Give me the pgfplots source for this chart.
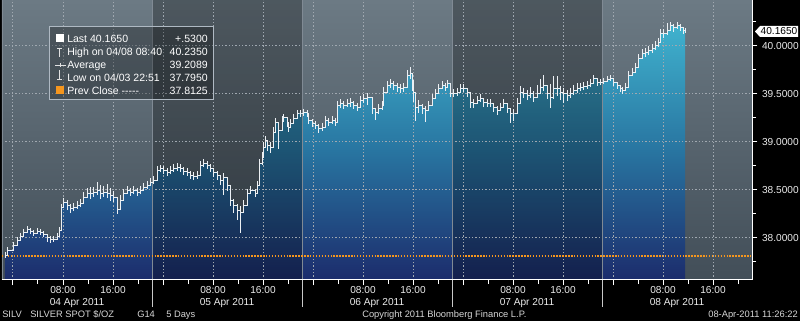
\documentclass[border=0pt]{standalone}
\usepackage{fontspec}
\setmainfont{Liberation Sans}
\usepackage{pgfplots}
\pgfplotsset{compat=1.18}
\usepackage{pgfplotstable}

\definecolor{bgtop}{RGB}{108,122,132}
\definecolor{bgbot}{RGB}{66,78,88}
\definecolor{artop}{RGB}{64,178,206}
\definecolor{armid}{RGB}{40,116,160}
\definecolor{arbot}{RGB}{28,44,108}
\definecolor{gridc}{RGB}{160,168,176}
\definecolor{orng}{RGB}{245,150,30}
\definecolor{txt}{RGB}{235,235,235}
\definecolor{sepc}{RGB}{128,138,148}
\definecolor{barc}{RGB}{236,240,244}
\definecolor{sepb}{RGB}{200,200,200}
\definecolor{infot}{RGB}{215,215,215}
\definecolor{legbd}{RGB}{175,185,195}
\definecolor{iconc}{RGB}{225,225,225}

% h = hours since 00:00 04 Apr 2011, c = price, ep/em = bar range above/below
\pgfplotstableread{
h c ep em
-1.28 37.823 0.03 0.028
-0.96 37.875 0.03 0.04
0.00 37.927 0.03 0.03
0.64 37.979 0.03 0.03
1.12 38.021 0.03 0.03
1.60 38.063 0.03 0.03
2.24 38.094 0.03 0.03
2.72 38.073 0.03 0.03
3.20 38.052 0.03 0.03
3.84 38.073 0.03 0.03
4.32 38.063 0.03 0.03
4.80 38.042 0.03 0.03
5.44 38.010 0.03 0.05
5.92 37.990 0.03 0.04
6.40 37.990 0.03 0.03
7.04 38.021 0.03 0.03
7.36 38.083 0.03 0.03
7.68 38.323 0.03 0.05
8.00 38.375 0.04 0.04
8.64 38.344 0.05 0.05
9.12 38.313 0.04 0.05
9.60 38.323 0.04 0.04
10.24 38.344 0.04 0.04
10.72 38.365 0.04 0.04
11.20 38.427 0.05 0.05
11.84 38.469 0.05 0.04
12.32 38.469 0.06 0.06
12.80 38.479 0.05 0.05
13.44 38.500 0.08 0.05
13.92 38.469 0.08 0.06
14.40 38.479 0.06 0.05
15.04 38.469 0.09 0.05
15.52 38.448 0.07 0.06
16.00 38.427 0.06 0.05
16.64 38.300 0.05 0.05
17.12 38.396 0.05 0.04
17.60 38.469 0.04 0.04
18.24 38.500 0.04 0.04
18.72 38.479 0.04 0.04
19.20 38.500 0.04 0.04
19.84 38.479 0.04 0.04
20.32 38.500 0.04 0.04
20.80 38.531 0.04 0.04
21.44 38.552 0.04 0.04
21.92 38.583 0.04 0.04
22.40 38.604 0.04 0.04
23.04 38.708 0.04 0.05
23.52 38.729 0.03 0.04
24.00 38.708 0.04 0.04
24.64 38.688 0.04 0.04
25.12 38.708 0.04 0.04
25.60 38.729 0.04 0.04
26.24 38.740 0.04 0.04
26.72 38.729 0.04 0.04
27.20 38.698 0.04 0.04
27.84 38.688 0.04 0.04
28.32 38.656 0.04 0.04
28.80 38.646 0.04 0.04
29.44 38.656 0.04 0.04
29.92 38.760 0.04 0.05
30.40 38.781 0.04 0.04
31.04 38.760 0.04 0.04
31.52 38.729 0.04 0.04
32.00 38.688 0.04 0.05
32.64 38.656 0.04 0.05
33.12 38.604 0.04 0.05
33.60 38.635 0.04 0.19
34.24 38.552 0.05 0.06
34.72 38.396 0.06 0.06
35.20 38.344 0.06 0.08
35.84 38.292 0.06 0.10
36.32 38.271 0.06 0.22
36.80 38.344 0.05 0.06
37.44 38.469 0.04 0.06
37.92 38.500 0.04 0.04
38.72 38.469 0.04 0.04
39.04 38.552 0.04 0.06
39.36 38.781 0.04 0.10
39.84 38.844 0.05 0.08
40.00 38.948 0.05 0.08
40.32 39.021 0.04 0.08
40.64 38.969 0.05 0.06
41.12 38.948 0.05 0.06
41.60 39.104 0.05 0.08
41.92 39.208 0.04 0.10
42.40 39.125 0.06 0.20
43.04 39.229 0.04 0.06
43.20 39.260 0.03 0.05
43.84 39.208 0.04 0.05
44.00 39.156 0.04 0.05
44.32 39.198 0.04 0.05
44.80 39.250 0.04 0.04
45.44 39.302 0.03 0.04
45.92 39.302 0.03 0.04
46.40 39.313 0.03 0.04
47.04 39.302 0.03 0.04
47.20 39.229 0.04 0.04
47.84 39.198 0.04 0.04
48.32 39.177 0.04 0.04
48.80 39.146 0.04 0.05
49.44 39.156 0.04 0.04
49.92 39.229 0.04 0.04
50.40 39.208 0.04 0.04
51.04 39.229 0.04 0.04
51.52 39.208 0.04 0.04
51.84 39.385 0.04 0.08
52.32 39.406 0.04 0.05
52.80 39.385 0.04 0.04
53.44 39.406 0.04 0.04
53.92 39.417 0.04 0.05
54.40 39.385 0.04 0.04
55.04 39.365 0.04 0.04
55.52 39.438 0.04 0.05
56.00 39.458 0.04 0.05
56.64 39.469 0.04 0.08
57.44 39.354 0.04 0.06
57.92 39.313 0.04 0.08
58.40 39.354 0.04 0.06
59.04 39.385 0.04 0.05
59.20 39.521 0.05 0.10
59.84 39.594 0.04 0.06
60.32 39.615 0.04 0.05
60.80 39.594 0.04 0.05
61.44 39.573 0.04 0.05
61.92 39.563 0.04 0.05
62.40 39.573 0.04 0.05
63.04 39.698 0.05 0.08
63.52 39.719 0.06 0.06
63.84 39.646 0.04 0.12
64.00 39.521 0.06 0.10
64.32 39.365 0.05 0.15
64.80 39.385 0.05 0.08
65.44 39.354 0.04 0.06
65.92 39.333 0.04 0.12
66.40 39.385 0.04 0.06
67.04 39.458 0.04 0.05
67.52 39.510 0.04 0.05
68.00 39.563 0.04 0.05
68.64 39.594 0.04 0.04
69.12 39.573 0.04 0.04
69.44 39.615 0.03 0.04
69.92 39.510 0.04 0.04
70.40 39.510 0.04 0.04
71.04 39.521 0.04 0.04
71.52 39.563 0.04 0.04
72.00 39.563 0.04 0.04
72.64 39.521 0.04 0.05
73.12 39.417 0.04 0.06
73.60 39.406 0.04 0.05
74.24 39.438 0.04 0.04
74.72 39.458 0.04 0.04
75.20 39.417 0.04 0.05
75.84 39.406 0.04 0.04
76.32 39.406 0.04 0.04
76.80 39.365 0.04 0.05
77.44 39.333 0.04 0.05
77.92 39.365 0.04 0.04
78.40 39.406 0.04 0.04
79.04 39.354 0.04 0.05
79.52 39.302 0.04 0.10
80.00 39.302 0.04 0.08
80.64 39.406 0.05 0.06
81.12 39.521 0.06 0.06
81.60 39.510 0.05 0.05
82.24 39.490 0.05 0.05
82.72 39.510 0.06 0.05
83.20 39.469 0.06 0.05
83.84 39.510 0.08 0.05
84.32 39.573 0.08 0.06
84.80 39.594 0.10 0.06
85.44 39.510 0.06 0.06
85.92 39.469 0.14 0.12
86.40 39.563 0.12 0.12
87.04 39.563 0.12 0.08
87.52 39.521 0.06 0.08
88.00 39.510 0.05 0.10
88.64 39.490 0.05 0.06
89.12 39.510 0.05 0.05
89.60 39.540 0.05 0.05
90.24 39.563 0.05 0.05
90.72 39.573 0.04 0.04
91.20 39.583 0.04 0.04
91.84 39.594 0.04 0.04
92.32 39.615 0.04 0.04
92.80 39.667 0.03 0.05
93.44 39.625 0.03 0.04
93.92 39.625 0.03 0.03
94.40 39.635 0.03 0.03
95.04 39.656 0.03 0.03
95.52 39.667 0.03 0.03
96.00 39.625 0.03 0.04
96.64 39.594 0.03 0.04
97.12 39.563 0.03 0.04
97.44 39.540 0.03 0.04
97.92 39.573 0.04 0.04
98.40 39.698 0.04 0.06
99.04 39.729 0.04 0.04
99.52 39.781 0.04 0.05
100.00 39.875 0.04 0.06
100.64 39.927 0.04 0.05
101.12 39.938 0.04 0.05
101.60 39.958 0.04 0.05
102.24 39.979 0.04 0.05
102.72 40.010 0.04 0.05
103.20 40.042 0.04 0.05
103.52 40.135 0.04 0.08
104.00 40.135 0.04 0.05
104.64 40.167 0.07 0.05
105.12 40.219 0.03 0.05
105.60 40.198 0.03 0.05
106.24 40.219 0.03 0.04
106.72 40.198 0.03 0.04
107.20 40.167 0.03 0.04
107.52 40.165 0.02 0.03
}\price

\begin{document}
\begin{tikzpicture}
\path[use as bounding box] (-1.5pt,-30.75pt) rectangle (598.5pt,210pt);
\fill[black] (-1.5pt,-30.75pt) rectangle (598.5pt,210pt);

\begin{axis}[
  at={(0pt,0pt)}, anchor=south west,
  scale only axis, width=562.5pt, height=210pt,
  xmin=-1.76, xmax=118.24, ymin=37.5625, ymax=40.479,
  axis x line*=bottom, axis y line*=right,
  axis line style={draw=white, line width=0.75pt},
  axis background/.style={top color=bgtop, bottom color=bgbot},
  xtick={0,8,...,112},
  xticklabels={,08:00,16:00,,08:00,16:00,,08:00,16:00,,08:00,16:00,,08:00,16:00},
  minor xtick={4,12,...,116},
  ytick={38,38.5,39,39.5,40},
  yticklabels={38.0000,38.5000,39.0000,39.5000,40.0000},
  minor ytick={37.75,38.25,38.75,39.25,39.75,40.25},
  tick align=outside,
  major tick length=4pt, minor tick length=3pt,
  tick style={white, line width=0.75pt},
  ticklabel style={font=\fontsize{7.6}{9}\selectfont, text=txt},
  xticklabel style={yshift=3pt},
  axis on top,
]
% price area
\addplot[draw=none, top color=artop, bottom color=arbot, middle color=armid, const plot, mark=none]
  table[x=h, y=c]{\price} -- (axis cs:107.52,37.5625) -- (axis cs:-1.28,37.5625) -- cycle;
% darker day columns
\fill[black, opacity=0.28] (axis cs:22.24,37.5625) rectangle (axis cs:46.24,40.479);
\fill[black, opacity=0.28] (axis cs:70.24,37.5625) rectangle (axis cs:94.24,40.479);
% dotted grid
\pgfplotsinvokeforeach{0,8,16,24,32,40,48,56,64,72,80,88,96,104,112}{
  \draw[gridc, line width=0.75pt, dash pattern=on 0.9pt off 1.6pt] (axis cs:#1,37.5625) -- (axis cs:#1,40.479);
}
\pgfplotsinvokeforeach{38,38.5,39,39.5,40}{
  \draw[gridc, line width=0.75pt, dash pattern=on 0.9pt off 1.6pt] (axis cs:-1.76,#1) -- (axis cs:118.24,#1);
}
% day separators
\draw[sepc, line width=0.75pt] (axis cs:22.24,37.5625) -- (axis cs:22.24,40.479);
\draw[sepc, line width=0.75pt] (axis cs:46.24,37.5625) -- (axis cs:46.24,40.479);
\draw[sepc, line width=0.75pt] (axis cs:70.24,37.5625) -- (axis cs:70.24,40.479);
\draw[sepc, line width=0.75pt] (axis cs:94.24,37.5625) -- (axis cs:94.24,40.479);
\draw[sepc, line width=0.75pt] (axis cs:-1.70,37.5625) -- (axis cs:-1.70,40.479);
% previous close
\addplot[orng, line width=1.1pt, dash pattern=on 1.1pt off 1.1pt, mark=none]
  coordinates {(-1.76,37.8125) (118.24,37.8125)};
% price bars
\addplot[draw=barc, line width=0.6pt, const plot, mark=none,
  error bars/.cd, y dir=both, y explicit, error mark=none,
  error bar style={draw=barc, line width=0.55pt}]
  table[x=h, y=c, y error plus=ep, y error minus=em]{\price};
\end{axis}

\begin{scope}[x=0.75pt, y=-0.75pt, shift={(-1.5pt,210pt)}]
% separators below axis
\foreach \sx in {152,302,452,602} {
  \draw[sepb, line width=0.75pt] (\sx,280) -- (\sx,307);
}
% date labels
\foreach \cx/\lab in {77/04 Apr 2011, 227/05 Apr 2011, 377/06 Apr 2011, 527/07 Apr 2011, 677/08 Apr 2011} {
  \node[anchor=base, inner sep=0pt, text=txt, font=\fontsize{7.6}{9}\selectfont] at (\cx,305.5) {\lab};
}
% bottom info line
\begin{scope}[every node/.style={inner sep=0pt, text=infot, font=\fontsize{7}{8}\selectfont}]
\node[anchor=base west] at (2,318) {SILV};
\node[anchor=base west] at (30,318) {SILVER SPOT \$/OZ};
\node[anchor=base west] at (137,318) {G14};
\node[anchor=base west] at (166,318) {5 Days};
\node[anchor=base west] at (362,318) {Copyright 2011 Bloomberg Finance L.P.};
\node[anchor=base east] at (798,318) {08-Apr-2011 11:26:22};
\end{scope}
% last price tag
\fill[white] (755,31.5) -- (760,26) -- (798,26) -- (798,37) -- (760,37) -- cycle;
\node[anchor=base, inner sep=0pt, text=black, font=\fontsize{7.6}{9}\selectfont] at (779,35) {40.1650};
% legend box
\fill[black, opacity=0.28] (50,27) rectangle (213,100);
\draw[legbd, line width=0.75pt] (50,27) rectangle (213,100);
\fill[white] (56,34) rectangle (64,42.5);
\draw[iconc, line width=0.7pt] (57,48) -- (62,48) (59.5,48) -- (59.5,57);
\draw[iconc, line width=0.7pt] (55,65) -- (66,65) (60.5,63) -- (60.5,67);
\draw[iconc, line width=0.7pt] (59.5,70) -- (59.5,79) (57,79) -- (62,79);
\fill[orng] (56,86) rectangle (64,94.5);
\begin{scope}[every node/.style={inner sep=0pt, text=white, font=\fontsize{7.9}{10}\selectfont}]
\node[anchor=base west] at (67,43) {Last 40.1650};
\node[anchor=base west] at (67,56) {High on 04/08 08:40};
\node[anchor=base west] at (67,68.7) {Average};
\node[anchor=base west] at (67,81.6) {Low on 04/03 22:51};
\node[anchor=base west] at (67,94.4) {Prev Close -{}-{}-{}-{}-};
\node[anchor=base east] at (208,43) {+.5300};
\node[anchor=base east] at (208,56) {40.2350};
\node[anchor=base east] at (208,68.7) {39.2089};
\node[anchor=base east] at (208,81.6) {37.7950};
\node[anchor=base east] at (208,94.4) {37.8125};
\end{scope}
\end{scope}
\end{tikzpicture}
\end{document}
